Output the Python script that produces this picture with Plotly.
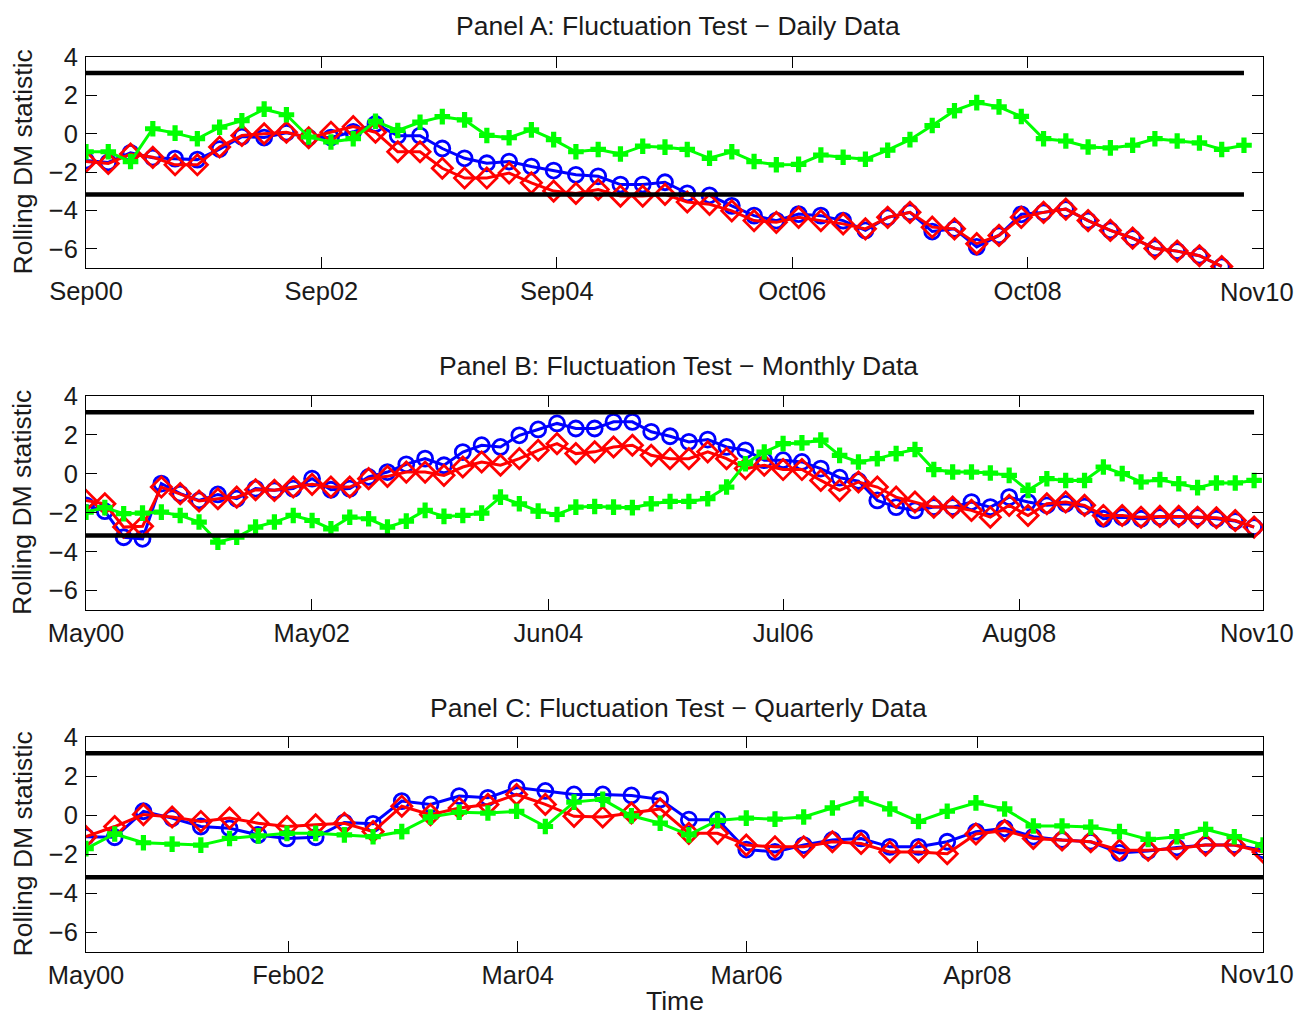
import plotly.graph_objects as go

# ---------------- data ----------------
CV = 3.17  # critical value of the fluctuation test

# Panel A (daily)
a_ticklabels = ["Sep00", "Sep02", "Sep04", "Oct06", "Oct08", "Nov10"]
a_tickpos = [0.0, 0.2, 0.4, 0.6, 0.8, 1.0]
a_step = 0.01892
a_blue = [-1.4, -1.5, -1.0, -1.25, -1.3, -1.35, -0.8, -0.15, -0.2, 0.05, -0.2, -0.2, 0.1, 0.51, -0.1, -0.1, -0.77, -1.28,
          -1.54, -1.45, -1.71, -1.92, -2.14, -2.22, -2.65, -2.65, -2.53, -3.11, -3.21, -3.76, -4.27, -4.53, -4.19, -4.27, -4.53, -5.04,
          -4.36, -4.1, -5.1, -4.96, -5.9, -5.3, -4.2, -4.1, -3.93, -4.53, -5.04, -5.44, -5.98, -6.12, -6.36, -6.92]
a_red = [-1.45, -1.55, -1.06, -1.23, -1.62, -1.62, -0.69, -0.09, 0.0, 0.08, -0.21, 0.08, 0.37, 0.08, -0.94, -0.94, -1.8, -2.31,
         -2.31, -2.05, -2.56, -2.99, -3.11, -2.91, -3.25, -3.25, -3.16, -3.56, -3.68, -4.02, -4.53, -4.62, -4.36, -4.53, -4.7, -4.96,
         -4.36, -4.1, -4.87, -4.96, -5.73, -5.3, -4.36, -4.1, -3.93, -4.53, -5.04, -5.44, -5.98, -6.12, -6.36, -6.92]
a_green = [-0.94, -0.94, -1.45, 0.26, 0.03, -0.26, 0.34, 0.68, 1.28, 0.99, -0.17, -0.43, -0.26, 0.65, 0.17, 0.6, 0.89, 0.72,
           -0.09, -0.21, 0.2, -0.31, -0.94, -0.82, -1.06, -0.65, -0.7, -0.82, -1.28, -0.94, -1.45, -1.62, -1.6, -1.11, -1.23, -1.33,
           -0.86, -0.31, 0.43, 1.2, 1.62, 1.4, 0.9, -0.26, -0.38, -0.69, -0.74, -0.6, -0.26, -0.38, -0.48, -0.82, -0.6]

# Panel B (monthly)
b_ticklabels = ["May00", "May02", "Jun04", "Jul06", "Aug08", "Nov10"]
b_tickpos = [0.0, 0.1918, 0.3928, 0.5924, 0.7929, 1.0]
b_step = 0.016007
b_blue = [-1.62, -1.92, -3.26, -3.34, -0.5, -1.02, -1.37, -1.06, -1.28, -0.76, -0.85, -0.76, -0.25, -0.82, -0.76, -0.16, 0.09, 0.49, 0.78, 0.44, 1.12, 1.47,
          1.38, 1.98, 2.28, 2.59, 2.33, 2.33, 2.67, 2.67, 2.16, 1.93, 1.64, 1.76, 1.38, 1.21, 0.7, 0.7, 0.61, 0.27, -0.2, -0.37,
          -1.37, -1.71, -1.88, -1.71, -1.71, -1.45, -1.71, -1.2, -1.45, -1.62, -1.54, -1.68, -2.31, -2.23, -2.31, -2.23, -2.23, -2.23, -2.31, -2.43, -2.74]
b_red = [-1.37, -1.54, -2.74, -2.7, -0.68, -1.02, -1.4, -1.28, -1.2, -0.82, -0.85, -0.68, -0.54, -0.68, -0.68, -0.25, -0.13, 0.09, 0.09, -0.08, 0.35, 0.61,
         0.44, 0.78, 1.21, 1.55, 1.04, 1.13, 1.38, 1.47, 0.95, 0.78, 0.78, 1.13, 0.78, 0.27, 0.44, 0.22, 0.22, -0.34, -0.85, -0.42,
         -0.68, -1.2, -1.45, -1.71, -1.71, -1.88, -2.23, -1.62, -2.14, -1.54, -1.45, -1.62, -2.14, -2.14, -2.23, -2.19, -2.19, -2.23, -2.26, -2.4, -2.74]
b_green = [-1.97, -1.74, -2.05, -2.02, -1.97, -2.14, -2.48, -3.51, -3.26, -2.74, -2.48, -2.14, -2.4, -2.83, -2.23, -2.31, -2.74, -2.43, -1.88, -2.19, -2.14, -2.02,
           -1.2, -1.54, -1.92, -2.09, -1.71, -1.68, -1.71, -1.74, -1.54, -1.42, -1.42, -1.28, -0.68, 0.52, 1.12, 1.55, 1.59, 1.73, 0.95, 0.61,
           0.78, 1.04, 1.25, 0.22, 0.09, 0.09, 0.04, -0.08, -0.85, -0.25, -0.34, -0.34, 0.35, 0.01, -0.42, -0.3, -0.51, -0.71, -0.47, -0.47, -0.34]

# Panel C (quarterly)
c_ticklabels = ["May00", "Feb02", "Mar04", "Mar06", "Apr08", "Nov10"]
c_tickpos = [0.0, 0.1719, 0.3668, 0.5613, 0.7573, 1.0]
c_step = 1 / 41
c_blue = [-1.1, -1.13, 0.2, -0.15, -0.58, -0.67, -1.01, -1.19, -1.13, -0.37, -0.44, 0.72, 0.55, 0.98,
          0.89, 1.41, 1.24, 1.06, 1.06, 1.01, 0.81, -0.23, -0.23, -1.76, -1.88, -1.53, -1.27, -1.19,
          -1.62, -1.62, -1.36, -0.84, -0.67, -1.1, -1.27, -1.36, -1.93, -1.83, -1.65, -1.53, -1.53, -1.79]
c_red = [-1.1, -0.58, 0.03, -0.09, -0.32, -0.15, -0.41, -0.58, -0.49, -0.41, -0.84, 0.46, 0.03, 0.37,
         0.55, 1.06, 0.55, -0.06, -0.09, 0.11, 0.32, -0.93, -0.93, -1.53, -1.62, -1.62, -1.36, -1.45,
         -1.88, -1.88, -1.97, -0.96, -0.79, -1.19, -1.27, -1.36, -1.79, -1.79, -1.71, -1.53, -1.53, -1.88]
c_green = [-1.71, -0.96, -1.41, -1.48, -1.53, -1.19, -1.06, -0.93, -0.93, -1.01, -1.1, -0.84, -0.09, 0.15,
           0.11, 0.2, -0.58, 0.67, 0.81, -0.03, -0.41, -1.01, -0.27, -0.15, -0.2, -0.09, 0.37, 0.84,
           0.32, -0.32, 0.2, 0.63, 0.32, -0.55, -0.55, -0.61, -0.84, -1.24, -1.1, -0.72, -1.1, -1.53]

titles = ["Panel A: Fluctuation Test \u2212 Daily Data",
          "Panel B: Fluctuation Test \u2212 Monthly Data",
          "Panel C: Fluctuation Test \u2212 Quarterly Data"]
ylabel = "Rolling DM statistic"
xlabel = "Time"
ytickvals = [-6, -4, -2, 0, 2, 4]
yticktext = ["\u22126", "\u22124", "\u22122", "0", "2", "4"]

# ---------------- figure ----------------
# the page body has an 8px margin, so the figure is positioned to compensate
OFF = 8
W, H = 1305 - OFF, 1017 - OFF
FONT = "Arial, Liberation Sans, Helvetica, sans-serif"
FS_TICK = 25.5
FS_TEXT = 26.5


def px(x):
    return (x - OFF) / W


def py(y):
    return 1 - (y - OFF) / H


x_dom = [px(86), px(1263)]
y_doms = [[py(268), py(57)], [py(610), py(396)], [py(952), py(737)]]
title_y = [py(26), py(366), py(708)]
xlab_y = [py(292), py(633), py(974)]

panels = [
    (a_blue, a_red, a_green, a_step, a_tickpos, a_ticklabels),
    (b_blue, b_red, b_green, b_step, b_tickpos, b_ticklabels),
    (c_blue, c_red, c_green, c_step, c_tickpos, c_ticklabels),
]

fig = go.Figure()
layout = dict(
    template="none",
    width=W, height=H, margin=dict(l=0, r=0, t=0, b=0, autoexpand=False),
    paper_bgcolor="white", plot_bgcolor="white", showlegend=False,
    font=dict(family=FONT, size=FS_TICK, color="#1a1a1a"),
)
annotations = []

for i, (blue, red, green, step, tpos, tlab) in enumerate(panels):
    xa = "x" if i == 0 else f"x{i+1}"
    ya = "y" if i == 0 else f"y{i+1}"
    xb = [k * step for k in range(len(blue))]
    xr = [k * step for k in range(len(red))]
    xg = [k * step for k in range(len(green))]
    fig.add_trace(go.Scatter(x=xb, y=blue, xaxis=xa, yaxis=ya, mode="lines+markers",
                             line=dict(color="#0000FF", width=3),
                             marker=dict(symbol="circle-open", size=15, color="#0000FF", line=dict(width=2.8))))
    fig.add_trace(go.Scatter(x=xr, y=red, xaxis=xa, yaxis=ya, mode="lines+markers",
                             line=dict(color="#FF0000", width=3),
                             marker=dict(symbol="diamond-open", size=15.5, color="#FF0000", line=dict(width=2.8))))
    fig.add_trace(go.Scatter(x=xg, y=green, xaxis=xa, yaxis=ya, mode="lines+markers",
                             line=dict(color="#00FF00", width=3),
                             marker=dict(symbol="cross", size=13, color="#00FF00", line=dict(width=0))))
    for s in (1, -1):
        fig.add_trace(go.Scatter(x=[xg[0], xg[-1]], y=[s * CV, s * CV], xaxis=xa, yaxis=ya, mode="lines",
                                 line=dict(color="black", width=4.5)))

    key = "" if i == 0 else str(i + 1)
    # the last label sits at the right page edge, so it is drawn as a right-anchored annotation
    shown_text = tlab[:-1] + [""]
    layout["xaxis" + key] = dict(
        domain=x_dom, anchor=ya, range=[0, 1], tickmode="array", tickvals=tpos, ticktext=shown_text,
        automargin=False,
        showgrid=False, zeroline=False, showline=True, linecolor="black", linewidth=1,
        mirror="ticks", ticks="inside", ticklen=11, tickcolor="black", tickwidth=1,
        ticklabelstandoff=0, tickfont=dict(size=FS_TICK, family=FONT),
    )
    layout["yaxis" + key] = dict(
        domain=y_doms[i], anchor=xa, range=[-7, 4], tickmode="array", tickvals=ytickvals, ticktext=yticktext,
        automargin=False,
        showgrid=False, zeroline=False, showline=True, linecolor="black", linewidth=1,
        mirror="ticks", ticks="inside", ticklen=11, tickcolor="black", tickwidth=1,
        ticklabelstandoff=2, tickfont=dict(size=FS_TICK, family=FONT),
    )
    annotations.append(dict(text=tlab[-1], x=px(1296), y=xlab_y[i], xref="paper", yref="paper",
                            xanchor="right", yanchor="middle", showarrow=False,
                            font=dict(size=FS_TICK, family=FONT)))
    annotations.append(dict(text=titles[i], x=px(678), y=title_y[i], xref="paper", yref="paper",
                            xanchor="center", yanchor="middle", showarrow=False, font=dict(size=FS_TEXT, family=FONT)))
    annotations.append(dict(text=ylabel, x=px(22), y=(y_doms[i][0] + y_doms[i][1]) / 2, xref="paper", yref="paper",
                            xanchor="center", yanchor="middle", textangle=-90, showarrow=False,
                            font=dict(size=FS_TEXT, family=FONT)))

annotations.append(dict(text=xlabel, x=px(675), y=py(1001), xref="paper", yref="paper",
                        xanchor="center", yanchor="middle", showarrow=False, font=dict(size=FS_TEXT, family=FONT)))
layout["annotations"] = annotations
fig.update_layout(**layout)
fig.write_html("out.html")
